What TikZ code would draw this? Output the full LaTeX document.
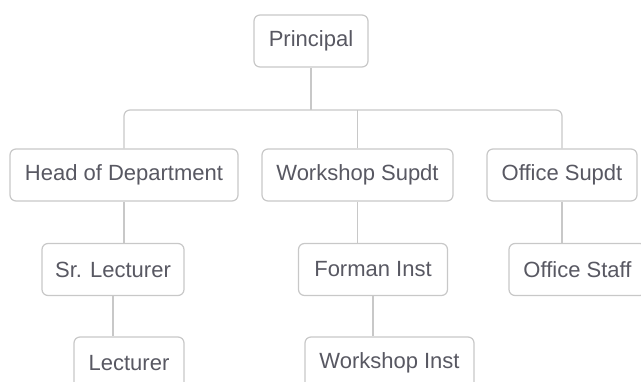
\documentclass[tikz,border=0pt]{standalone}
\usepackage{fontspec}
\setmainfont{Liberation Sans}
\usepackage{tikz}

\definecolor{boxline}{RGB}{200,200,200}
\definecolor{boxtext}{RGB}{88,88,98}

\begin{document}
\begin{tikzpicture}[x=1pt, y=-1pt,
		node_style/.style={rectangle,rounded corners=6pt,draw=boxline,line width=1.2pt,fill=white,text=boxtext,minimum height=52pt,inner xsep=0pt,font=\fontsize{22}{24}\selectfont},
		edge_style/.style={draw=boxline,line width=1.2pt,rounded corners=6pt}]
		
		\clip (0,0) rectangle (641,382);
		\useasboundingbox (0,0) rectangle (641,382);
		
		\node[node_style,minimum width=114pt] (prin) at (311,41)  {Principal};
		\node[node_style,minimum width=228pt] (hod) at (124,175)  {Head of Department};
		\node[node_style,minimum width=191pt] (wsup) at (357.5,175)  {Workshop Supdt};
		\node[node_style,minimum width=150pt] (osup) at (562,175)  {Office Supdt};
		\node[node_style,minimum width=142pt] (srlec) at (113,269.5)  {Sr. Lecturer};
		\node[node_style,minimum width=149pt] (forman) at (373,269.5)  {Forman Inst};
		\node[node_style,minimum width=137pt] (ostaff) at (577.5,269.5)  {Office Staff};
		\node[node_style,minimum width=110pt] (lec) at (129,363)  {Lecturer};
		\node[node_style,minimum width=169pt] (wins) at (389.5,363)  {Workshop Inst};
		
		\coordinate (bar) at (prin.south |- 0,110);
		
		\draw[edge_style]  (prin.south) -- (bar);
		\draw[edge_style]  (hod.north) |- (bar) -| (osup.north);
		\draw[edge_style]  (wsup.north) -- (wsup.north |- bar);
		\draw[edge_style]  (hod.south) -- (hod.south |- srlec.north);
		\draw[edge_style]  (srlec.south) -- (srlec.south |- lec.north);
		\draw[edge_style]  (wsup.south) -- (wsup.south |- forman.north);
		\draw[edge_style]  (forman.south) -- (forman.south |- wins.north);
		\draw[edge_style]  (osup.south) -- (osup.south |- ostaff.north);
		
\end{tikzpicture}
\end{document}
